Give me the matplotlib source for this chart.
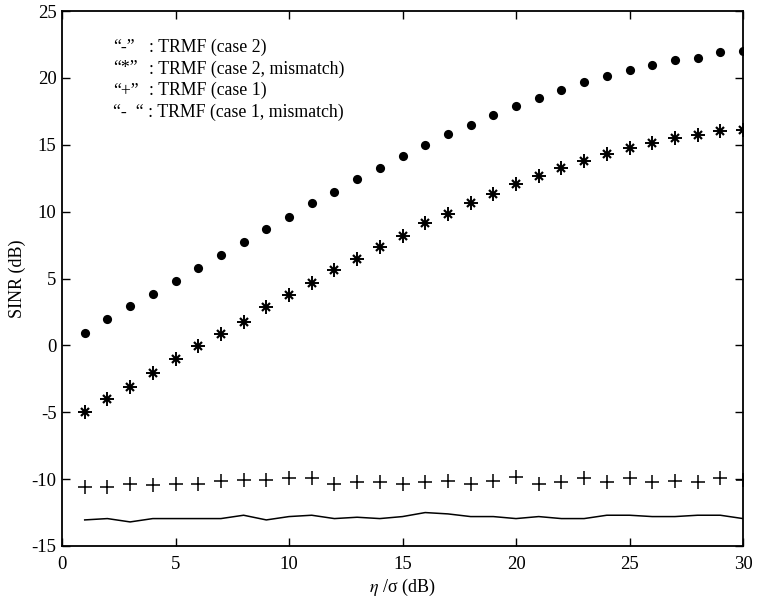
import matplotlib
matplotlib.use("Agg")
import matplotlib.pyplot as plt

plt.rcParams["font.family"] = ["Liberation Serif", "DejaVu Serif"]
plt.rcParams["mathtext.fontset"] = "stix"
plt.rcParams["axes.unicode_minus"] = False

# eta/sigma (dB)
snr_db = list(range(1, 31))

# TRMF, case 2
case2 = [0.92, 1.96, 2.91, 3.82, 4.85, 5.8, 6.74, 7.76, 8.7, 9.63,
         10.62, 11.49, 12.44, 13.26, 14.18, 15.0, 15.8, 16.49, 17.2, 17.9,
         18.5, 19.08, 19.68, 20.12, 20.6, 20.97, 21.3, 21.5, 21.9, 22.0]

# TRMF, case 2 with mismatch
case2_mis = [-4.98, -4.03, -3.11, -2.07, -1.05, -0.07, 0.86, 1.77, 2.86, 3.8,
             4.7, 5.65, 6.47, 7.39, 8.2, 9.13, 9.83, 10.65, 11.32, 12.04,
             12.64, 13.23, 13.78, 14.28, 14.75, 15.1, 15.47, 15.7, 16.0, 16.12]

# TRMF, case 1
case1 = [-10.57, -10.57, -10.37, -10.45, -10.33, -10.33, -10.13, -10.05, -10.05, -9.88,
         -9.93, -10.33, -10.18, -10.2, -10.33, -10.18, -10.13, -10.33, -10.13, -9.83,
         -10.33, -10.2, -9.93, -10.25, -9.88, -10.2, -10.13, -10.25, -9.93, -10.08]

# TRMF, case 1 with mismatch
case1_mis = [-13.05, -12.95, -13.2, -12.95, -12.95, -12.95, -12.95, -12.7, -13.05, -12.8,
             -12.7, -12.95, -12.85, -12.95, -12.8, -12.5, -12.6, -12.8, -12.8, -12.95,
             -12.8, -12.95, -12.95, -12.7, -12.7, -12.8, -12.8, -12.7, -12.7, -12.95]

legend_keys = ["\u201c-\u201d", "\u201c*\u201d", "\u201c+\u201d"]
legend_texts = [": TRMF (case 2)", ": TRMF (case 2, mismatch)", ": TRMF (case 1)"]
legend_last = "\u201c-  \u201c : TRMF (case 1, mismatch)"

fig = plt.figure(figsize=(7.57, 6.03), dpi=100)
ax = fig.add_axes([62 / 757, 1 - 546 / 603, 681 / 757, 535 / 603])

ax.plot(snr_db, case2, linestyle="none", marker="o", markersize=6.6,
        color="black", markeredgewidth=0)
ax.plot(snr_db, case2_mis, linestyle="none", marker="+", markersize=10.5,
        color="black", markeredgewidth=1.4)
ax.plot(snr_db, case2_mis, linestyle="none", marker="x", markersize=6.2,
        color="black", markeredgewidth=1.6)
ax.plot(snr_db, case1, linestyle="none", marker="+", markersize=10,
        color="black", markeredgewidth=1.1)
ax.plot(snr_db, case1_mis, color="black", linewidth=1.1)

ax.set_xlim(0, 30)
ax.set_ylim(-15, 25)
ax.set_xticks(range(0, 31, 5))
ax.set_yticks(range(-15, 26, 5))
ax.tick_params(direction="in", length=6, width=1.0, top=True, right=True,
               labelsize=13.5)
ax.tick_params(axis="y", pad=4)
ax.tick_params(axis="x", pad=7)
for s in ax.spines.values():
    s.set_linewidth(1.3)

ax.set_xlabel("$\\eta$ /\u03c3 (dB)", fontsize=13, labelpad=3)
ax.set_ylabel("SINR (dB)", fontsize=13, labelpad=4)

ys = [0.933, 0.8916, 0.852]
for key, txt, y in zip(legend_keys, legend_texts, ys):
    ax.text(0.0749, y, key, transform=ax.transAxes, fontsize=12.8,
            va="center", ha="left")
    ax.text(0.1278, y, txt, transform=ax.transAxes, fontsize=12.8,
            va="center", ha="left")
ax.text(0.0749, 0.811, legend_last, transform=ax.transAxes, fontsize=12.8,
        va="center", ha="left")

fig.savefig("out.png", dpi=100)
